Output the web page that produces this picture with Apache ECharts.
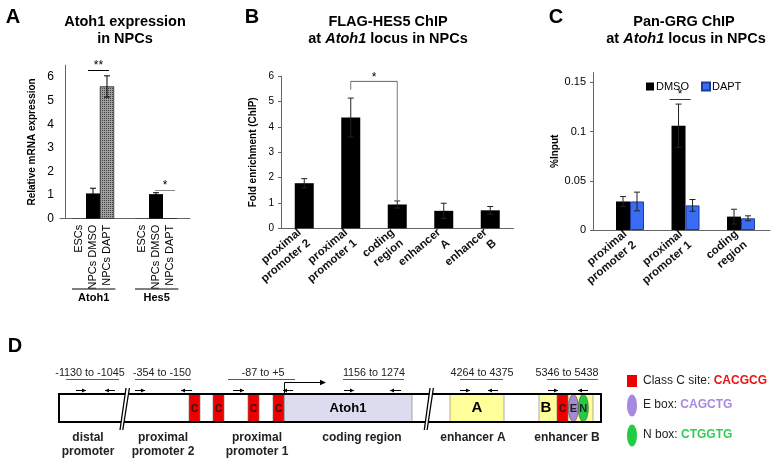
<!DOCTYPE html>
<html><head><meta charset="utf-8">
<script src="https://cdn.jsdelivr.net/npm/echarts@6/dist/echarts.min.js"></script>
<style>html,body{margin:0;padding:0;background:#fff}#c{width:772px;height:461px}</style>
</head><body><div id="c"></div><script>
const FONT = '"Liberation Sans", Arial, sans-serif';

// ---------- Panel A data ----------
const aGroups = ['Atoh1', 'Hes5'];
const aCategories = ['ESCs', 'NPCs DMSO', 'NPCs DAPT'];
const aAtoh1 = [0.01, 1.07, 5.6];
const aAtoh1Err = [0, 0.22, 0.45];
const aHes5 = [0.01, 1.04, 0.02];
const aHes5Err = [0, 0.06, 0];
const aYTicks = [0, 1, 2, 3, 4, 5, 6];
const aSig = [{ x1: 1.64, x2: 3.14, y: 6.3, label: '**', color: '#000' },
              { x1: 6.43, x2: 7.86, y: 1.21, label: '*', color: '#888' }];

// ---------- Panel B data ----------
const bCategories = ['proximal\npromoter 2', 'proximal\npromoter 1', 'coding\nregion', 'enhancer\nA', 'enhancer\nB'];
const bValues = [1.78, 4.37, 0.94, 0.69, 0.71];
const bErrors = [0.18, 0.77, 0.14, 0.30, 0.15];
const bYTicks = [0, 1, 2, 3, 4, 5, 6];
const bSig = { from: 1, to: 2, y: 5.8, fromLow: 5.47, toLow: 1.12, label: '*' };

// ---------- Panel C data ----------
const cCategories = ['proximal\npromoter 2', 'proximal\npromoter 1', 'coding\nregion'];
const cSeries = ['DMSO', 'DAPT'];
const cDMSO = [0.029, 0.106, 0.0136];
const cDMSOErr = [0.005, 0.022, 0.0075];
const cDAPT = [0.029, 0.025, 0.0119];
const cDAPTErr = [0.0095, 0.006, 0.0025];
const cYTicks = [0, 0.05, 0.1, 0.15];
const cSig = { x1: 1.84, x2: 2.22, y: 0.133, label: '*' };

// ---------- layout helpers ----------
const aPos = (g, i) => 1 + g * 4.5 + i;
const aPositions = [], aLabels = [];
aGroups.forEach((g, gi) => aCategories.forEach((c, i) => { aPositions.push(aPos(gi, i)); aLabels.push(c); }));
const cPos = i => i + 1;

function errRenderer(offset, color) {
  return function (params, api) {
    const x = api.value(0), y = api.value(1), e = api.value(2);
    if (!e) return;
    const t = api.coord([x, y + e]), b = api.coord([x, y - e]);
    const px = t[0] + offset, hw = 3;
    const st = { stroke: color, lineWidth: 1 };
    return { type: 'group', children: [
      { type: 'line', shape: { x1: px, y1: t[1], x2: px, y2: b[1] }, style: st },
      { type: 'line', shape: { x1: px - hw, y1: t[1], x2: px + hw, y2: t[1] }, style: st },
      { type: 'line', shape: { x1: px - hw, y1: b[1], x2: px + hw, y2: b[1] }, style: st }
    ] };
  };
}

const axisLineStyle = { lineStyle: { color: '#666', width: 1 } };
const dapt = { color: '#a0a0a0', borderColor: '#333', borderWidth: 0.5,
  decal: { symbol: 'rect', symbolSize: 1, dashArrayX: [1, 1], dashArrayY: [1, 1], color: '#404040' } };

const aBarData = [];
const aErrData = [];
aGroups.forEach((g, gi) => {
  const vals = gi === 0 ? aAtoh1 : aHes5, errs = gi === 0 ? aAtoh1Err : aHes5Err;
  vals.forEach((v, i) => {
    const item = { value: [aPos(gi, i), v] };
    if (gi === 0 && i === 2) item.itemStyle = dapt;
    aBarData.push(item);
    aErrData.push([aPos(gi, i), v, errs[i]]);
  });
});

const sigLabel = t => ({ show: true, formatter: t, position: 'insideMiddleTop', distance: -2, fontSize: 12, color: '#000' });

const option = {
  animation: false,
  textStyle: { fontFamily: FONT },
  grid: [
    { left: 60, top: 65.2, width: 130, height: 153.5 },
    { left: 281, top: 76.3, width: 232.5, height: 152 },
    { left: 593, top: 72.6, width: 177, height: 157.4 }
  ],
  legend: {
    data: cSeries, left: 641, top: 76, itemWidth: 8, itemHeight: 8, itemGap: 12, icon: 'rect',
    textStyle: { fontSize: 11, color: '#000', fontFamily: FONT, padding: [0, 0, 0, -3] }
  },
  xAxis: [
    { gridIndex: 0, type: 'value', min: -0.357, max: 8.93, axisLine: { show: true, onZero: false, ...axisLineStyle },
      splitLine: { show: false }, axisTick: { show: false },
      axisLabel: { customValues: aPositions, rotate: 90, margin: 6, fontSize: 11, color: '#000',
        formatter: v => { const k = aPositions.findIndex(p => Math.abs(p - v) < 1e-6); return k >= 0 ? aLabels[k] : ''; } } },
    { gridIndex: 1, type: 'category', data: bCategories, axisLine: axisLineStyle, axisTick: { show: false },
      axisLabel: { interval: 0, rotate: 40, margin: 8, fontSize: 11.5, fontWeight: 'bold', color: '#111', lineHeight: 14 } },
    { gridIndex: 2, type: 'value', min: 0.3333, max: 3.522, axisLine: { show: true, onZero: false, ...axisLineStyle },
      splitLine: { show: false }, axisTick: { show: false },
      axisLabel: { customValues: cCategories.map((c, i) => cPos(i)), rotate: 40, margin: 8, fontSize: 11.5,
        fontWeight: 'bold', color: '#111', lineHeight: 14,
        formatter: v => cCategories[Math.round(v) - 1] || '' } }
  ],
  yAxis: [
    { gridIndex: 0, type: 'value', min: 0, max: 6.5, interval: 1, axisLine: { show: true, ...axisLineStyle },
      splitLine: { show: false }, axisTick: { show: false },
      axisLabel: { showMaxLabel: false, fontSize: 12, color: '#000', margin: 6 },
      name: 'Relative mRNA expression', nameLocation: 'middle', nameGap: 23,
      nameTextStyle: { fontSize: 10, fontWeight: 'bold', color: '#000' } },
    { gridIndex: 1, type: 'value', min: 0, max: 6, interval: 1, axisLine: { show: true, ...axisLineStyle },
      splitLine: { show: false }, axisTick: { show: true, length: 3, lineStyle: { color: '#666' } },
      axisLabel: { fontSize: 10, color: '#000', margin: 7 },
      name: 'Fold enrichment (ChIP)', nameLocation: 'middle', nameGap: 23,
      nameTextStyle: { fontSize: 10, fontWeight: 'bold', color: '#000' } },
    { gridIndex: 2, type: 'value', min: 0, max: 0.16, interval: 0.05, axisLine: { show: true, ...axisLineStyle },
      splitLine: { show: false }, axisTick: { show: true, length: 3, lineStyle: { color: '#666' } },
      axisLabel: { showMaxLabel: false, fontSize: 11, color: '#000', margin: 7 },
      name: '%Input', nameLocation: 'middle', nameGap: 24,
      nameTextStyle: { fontSize: 10, fontWeight: 'bold', color: '#000' } }
  ],
  series: [
    { type: 'bar', xAxisIndex: 0, yAxisIndex: 0, barWidth: 14, data: aBarData,
      itemStyle: { color: '#000' },
      markLine: { silent: true, symbol: ['none', 'none'],
        data: aSig.map(s => [
          { coord: [s.x1, s.y], lineStyle: { color: s.color, width: 1, type: 'solid' }, label: sigLabel(s.label) },
          { coord: [s.x2, s.y] }
        ]) } },
    { type: 'custom', xAxisIndex: 0, yAxisIndex: 0, renderItem: errRenderer(0, '#000'), data: aErrData, z: 5 },

    { type: 'bar', xAxisIndex: 1, yAxisIndex: 1, barWidth: 19, data: bValues, itemStyle: { color: '#000' } },
    { type: 'custom', xAxisIndex: 1, yAxisIndex: 1, renderItem: errRenderer(0, '#222'),
      data: bValues.map((v, i) => [i, v, bErrors[i]]), z: 5 },
    { type: 'line', xAxisIndex: 1, yAxisIndex: 1, symbol: 'none', silent: true,
      lineStyle: { color: '#777', width: 1 },
      data: [[bSig.from, bSig.fromLow], [bSig.from, bSig.y], [bSig.to, bSig.y], [bSig.to, bSig.toLow]],
      markLine: { silent: true, symbol: ['none', 'none'], lineStyle: { color: '#777', width: 1, type: 'solid' },
        label: sigLabel(bSig.label),
        data: [[{ coord: [bSig.from, bSig.y] }, { coord: [bSig.to, bSig.y] }]] } },

    { name: 'DMSO', type: 'bar', xAxisIndex: 2, yAxisIndex: 2, barWidth: 14, barGap: '0%',
      data: cDMSO.map((v, i) => [cPos(i), v]), itemStyle: { color: '#000' },
      markLine: { silent: true, symbol: ['none', 'none'], lineStyle: { color: '#333', width: 1, type: 'solid' },
        label: sigLabel(cSig.label),
        data: [[{ coord: [cSig.x1, cSig.y] }, { coord: [cSig.x2, cSig.y] }]] } },
    { name: 'DAPT', type: 'bar', xAxisIndex: 2, yAxisIndex: 2, barWidth: 14, barGap: '0%',
      data: cDAPT.map((v, i) => [cPos(i), v]), itemStyle: { color: '#3a6cf4', borderColor: '#1c3c99', borderWidth: 1 } },
    { type: 'custom', xAxisIndex: 2, yAxisIndex: 2, renderItem: errRenderer(-7, '#222'),
      data: cDMSO.map((v, i) => [cPos(i), v, cDMSOErr[i]]), z: 5 },
    { type: 'custom', xAxisIndex: 2, yAxisIndex: 2, renderItem: errRenderer(7, '#222'),
      data: cDAPT.map((v, i) => [cPos(i), v, cDAPTErr[i]]), z: 5 }
  ]
};

const chart = echarts.init(document.getElementById('c'));
chart.setOption(option);

// ---------- decorations (titles, panel letters, diagram D) ----------
const G = [];
const txt = (x, y, text, o = {}) => G.push({ type: 'text', x, y, z: 10, style: Object.assign({
  text, fill: '#000', font: `${o.bold ? 'bold ' : ''}${o.size || 12}px ${FONT}`, align: o.align || 'center',
  verticalAlign: o.va || 'middle' }, o.style || {}) });
const line = (x1, y1, x2, y2, stroke = '#000', w = 1) => G.push({ type: 'line', z: 10,
  shape: { x1, y1, x2, y2 }, style: { stroke, lineWidth: w } });

// panel letters
txt(13, 17, 'A', { bold: true, size: 20 });
txt(252, 17, 'B', { bold: true, size: 20 });
txt(556, 17, 'C', { bold: true, size: 20 });
txt(15, 346, 'D', { bold: true, size: 20 });

// titles
const titleRich = { i: { fontStyle: 'italic', fontWeight: 'bold', fontSize: 14.5, fontFamily: FONT, fill: '#000' } };
txt(125, 22, 'Atoh1 expression', { bold: true, size: 14.5 });
txt(125, 39, 'in NPCs', { bold: true, size: 14.5 });
txt(388, 22, 'FLAG-HES5 ChIP', { bold: true, size: 14.5 });
G.push({ type: 'text', x: 388, y: 39, style: { text: 'at {i|Atoh1} locus in NPCs', rich: titleRich,
  font: `bold 14.5px ${FONT}`, fill: '#000', align: 'center', verticalAlign: 'middle' } });
txt(684, 22, 'Pan-GRG ChIP', { bold: true, size: 14.5 });
G.push({ type: 'text', x: 686, y: 39, style: { text: 'at {i|Atoh1} locus in NPCs', rich: titleRich,
  font: `bold 14.5px ${FONT}`, fill: '#000', align: 'center', verticalAlign: 'middle' } });

// panel A group underlines and labels
aGroups.forEach((g, gi) => {
  const p0 = chart.convertToPixel({ gridIndex: 0 }, [aPos(gi, 0) - 0.5, 0]);
  const p1 = chart.convertToPixel({ gridIndex: 0 }, [aPos(gi, 2) + 0.6, 0]);
  line(p0[0], 289, p1[0], 289, '#000', 1);
  txt((p0[0] + p1[0]) / 2, 298, g, { bold: true, size: 11 });
});

// ---------- diagram D ----------
const boxL = 59, boxR = 601, boxT = 394, boxB = 422, midY = (boxT + boxB) / 2;
G.push({ type: 'rect', z: 8, shape: { x: boxL, y: boxT, width: boxR - boxL, height: boxB - boxT }, style: { fill: '#fff' } });
const region = (x1, x2, fill) => G.push({ type: 'rect', z: 9, shape: { x: x1, y: boxT, width: x2 - x1, height: boxB - boxT },
  style: { fill, stroke: '#777', lineWidth: 0.6 } });
region(284, 412, '#dcdcee');
region(450, 504, '#ffff99');
region(539, 593, '#ffff99');
[189, 213, 248, 273, 557].forEach(x => {
  region(x, x + 11, '#ee0000');
  txt(x + 5.5, midY + 1, 'C', { bold: true, size: 10, style: { fill: '#331111' } });
});
txt(348, midY, 'Atoh1', { bold: true, size: 13 });
txt(477, midY, 'A', { bold: true, size: 15 });
txt(546, midY, 'B', { bold: true, size: 15 });
G.push({ type: 'ellipse', z: 10, shape: { cx: 573.3, cy: midY, rx: 5, ry: 13.5 }, style: { fill: '#a68ad8', stroke: '#444', lineWidth: 0.6 } });
G.push({ type: 'ellipse', z: 10, shape: { cx: 583.3, cy: midY, rx: 5, ry: 13.5 }, style: { fill: '#22cc44', stroke: '#444', lineWidth: 0.6 } });
G.push({ type: 'text', z: 11, x: 573.3, y: midY + 1, style: { text: 'E', font: `bold 11px ${FONT}`, fill: '#222', align: 'center', verticalAlign: 'middle' } });
G.push({ type: 'text', z: 11, x: 583.3, y: midY + 1, style: { text: 'N', font: `bold 11px ${FONT}`, fill: '#222', align: 'center', verticalAlign: 'middle' } });
G.push({ type: 'rect', z: 12, shape: { x: boxL, y: boxT, width: boxR - boxL, height: boxB - boxT }, style: { fill: 'none', stroke: '#000', lineWidth: 2 } });

// break marks
[[120, 126], [424.3, 430]].forEach(([xb, xt]) => {
  G.push({ type: 'polygon', z: 13, shape: { points: [[xb, 430], [xt, 388], [xt + 3.2, 388], [xb + 2.6, 430]] }, style: { fill: '#fff' } });
  G.push({ type: 'line', z: 14, shape: { x1: xb, y1: 430, x2: xt, y2: 388 }, style: { stroke: '#000', lineWidth: 1.3 } });
  G.push({ type: 'line', z: 14, shape: { x1: xb + 2.8, y1: 430, x2: xt + 3.4, y2: 388 }, style: { stroke: '#000', lineWidth: 1.3 } });
});

// primer arrows
const arrow = (x1, x2, dir) => {
  const y = 390.5;
  line(x1, y, x2, y, '#000', 1);
  const tip = dir > 0 ? x2 : x1;
  G.push({ type: 'polygon', z: 10, shape: { points: [[tip, y], [tip - dir * 4, y - 2], [tip - dir * 4, y + 2]] }, style: { fill: '#000' } });
};
[[76, 86, 1], [105, 115, -1], [135, 145, 1], [181, 192, -1], [233, 244, 1], [283, 293, -1],
 [344, 354, 1], [390, 401, -1], [460, 470, 1], [488, 498, -1], [548, 558, 1], [578, 588, -1]].forEach(a => arrow(...a));

// TSS bent arrow
G.push({ type: 'polyline', z: 10, shape: { points: [[284.5, 393], [284.5, 382.5], [322, 382.5]] }, style: { stroke: '#000', lineWidth: 1, fill: 'none' } });
G.push({ type: 'polygon', z: 10, shape: { points: [[326, 382.5], [320, 379.8], [320, 385.2]] }, style: { fill: '#000' } });

// amplicon labels
[['-1130 to -1045', 90, 66, 119], ['-354 to -150', 162, 135, 191], ['-87 to +5', 263, 228, 295],
 ['1156 to 1274', 374, 343, 404], ['4264 to 4375', 482, 460, 503], ['5346 to 5438', 567, 547, 598]].forEach(([t, cx, l1, l2]) => {
  txt(cx, 373.5, t, { size: 10.8, style: { fill: '#222' } });
  line(l1, 379.5, l2, 379.5, '#333', 0.8);
});

// region labels
[['distal\npromoter', 88], ['proximal\npromoter 2', 163], ['proximal\npromoter 1', 257],
 ['coding region', 362], ['enhancer A', 473], ['enhancer B', 567]].forEach(([t, cx]) => {
  G.push({ type: 'text', z: 10, x: cx, y: 431, style: { text: t, font: `bold 12px ${FONT}`, fill: '#222', align: 'center', verticalAlign: 'top', lineHeight: 14 } });
});

// legend D
G.push({ type: 'rect', z: 10, shape: { x: 627, y: 375, width: 10, height: 12 }, style: { fill: '#ee0000' } });
G.push({ type: 'ellipse', z: 10, shape: { cx: 632, cy: 405.5, rx: 5, ry: 11 }, style: { fill: '#a68ae0' } });
G.push({ type: 'ellipse', z: 10, shape: { cx: 632, cy: 435.5, rx: 5, ry: 11 }, style: { fill: '#22cc44' } });
const legRich = (c) => ({ k: { font: `bold 12px ${FONT}`, fill: c } });
[['Class C site: {k|CACGCG}', 381, '#ee1111'], ['E box: {k|CAGCTG}', 404.5, '#a68ae0'], ['N box: {k|CTGGTG}', 435, '#33cc55']].forEach(([t, y, c]) => {
  G.push({ type: 'text', z: 10, x: 643, y, style: { text: t, rich: legRich(c), font: `12px ${FONT}`, fill: '#222', align: 'left', verticalAlign: 'middle' } });
});

chart.setOption({ graphic: { elements: G } });
</script></body></html>
